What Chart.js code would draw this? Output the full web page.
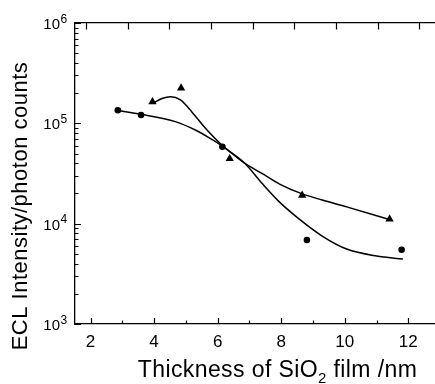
<!DOCTYPE html>
<html>
<head>
<meta charset="utf-8">
<script src="https://cdn.jsdelivr.net/npm/chart.js@4"></script>
<style>
  html, body { margin: 0; padding: 0; background: #fff; overflow: hidden; }
  #wrap { width: 435px; height: 384px; overflow: hidden; }
</style>
</head>
<body>
<div id="wrap"><canvas id="eclChart" width="480" height="384"></canvas></div>
<script>
// measured points
const circleX = [2.86, 3.59, 6.15, 8.81, 11.79];
const circleY = [1.35e5, 1.21e5, 5.85e4, 6.88e3, 5.5e3];
const triX = [3.95, 4.85, 6.38, 8.66, 11.41];
const triY = [1.64e5, 2.25e5, 4.44e4, 1.92e4, 1.11e4];

// fitted curves
const fitAX = [2.86, 3.59, 4.67, 5.30, 5.71, 6.15, 6.86, 7.42, 7.95, 8.66, 9.29, 10.06, 11.40];
const fitAY = [1.34e5, 1.23e5, 1.04e5, 8.58e4, 7.26e4, 5.94e4, 3.98e4, 3.13e4, 2.48e4, 1.98e4, 1.72e4, 1.47e4, 1.10e4];
const fitBX = [4.00, 4.25, 4.52, 4.83, 5.19, 5.61, 6.15, 6.86, 7.42, 7.95, 8.57, 9.29, 10.06, 11.00, 11.83];
const fitBY = [1.61e5, 1.77e5, 1.84e5, 1.71e5, 1.30e5, 8.98e4, 6.01e4, 3.98e4, 2.48e4, 1.64e4, 1.11e4, 7.53e3, 5.59e3, 4.76e3, 4.44e3];

// axes
const xTicks = [2, 4, 6, 8, 10, 12];
const xMinorTicks = [3, 5, 7, 9, 11];
const yTicks = [1e3, 1e4, 1e5, 1e6];
const yTickBase = "10";
const yTickExp = ["3", "4", "5", "6"];
const topTicks = [0, 1, 2, 3, 4, 5, 6, 7, 8, 9];

const xTitle = ["Thickness of SiO", "2", " film /nm"];
const yTitle = "ECL Intensity/photon counts";

const FONT = "'Liberation Sans', Arial, sans-serif";

function toPts(xs, ys) {
    return xs.map((x, i) => ({ x: x, y: ys[i] }));
}

const inTicks = {
    id: "inTicks",
    afterDraw(chart) {
        const ctx = chart.ctx;
        const a = chart.chartArea;
        const s = chart.scales;
        ctx.save();
        ctx.strokeStyle = "#000";
        ctx.lineWidth = 1.2;
        ctx.beginPath();
        yTicks.forEach(v => {
            const p = Math.round(s.y.getPixelForValue(v)) + 0.5;
            ctx.moveTo(a.left, p); ctx.lineTo(a.left + 6, p);
        });
        [1e3, 1e4, 1e5].forEach(d => {
            for (let m = 2; m <= 9; m++) {
                const p = Math.round(s.y.getPixelForValue(m * d)) + 0.5;
                ctx.moveTo(a.left, p); ctx.lineTo(a.left + 3.5, p);
            }
        });
        xTicks.forEach(v => {
            const p = Math.round(s.x.getPixelForValue(v)) + 0.5;
            ctx.moveTo(p, a.bottom); ctx.lineTo(p, a.bottom - 6);
        });
        xMinorTicks.forEach(v => {
            const p = Math.round(s.x.getPixelForValue(v)) + 0.5;
            ctx.moveTo(p, a.bottom); ctx.lineTo(p, a.bottom - 3.5);
        });
        topTicks.forEach(v => {
            const p = Math.round(s.x2.getPixelForValue(v)) + 0.5;
            ctx.moveTo(p, a.top); ctx.lineTo(p, a.top + 6.5);
        });
        ctx.stroke();

        ctx.fillStyle = "#000";
        ctx.textBaseline = "alphabetic";

        // y tick labels: 10 with a raised exponent
        yTicks.forEach((v, i) => {
            const p = s.y.getPixelForValue(v);
            ctx.font = "15px " + FONT;
            ctx.textAlign = "right";
            ctx.fillText(yTickBase, 60, p + 6);
            ctx.font = "12px " + FONT;
            ctx.textAlign = "left";
            ctx.fillText(yTickExp[i], 60.5, p - 0.5);
        });

        // axis titles
        ctx.font = "23px " + FONT;
        ctx.letterSpacing = "0.4px";
        const w0 = ctx.measureText(xTitle[0]).width;
        ctx.font = "15px " + FONT;
        const w1 = ctx.measureText(xTitle[1]).width;
        ctx.font = "23px " + FONT;
        const w2 = ctx.measureText(xTitle[2]).width;
        let x = 277.5 - (w0 + w1 + w2) / 2;
        ctx.textAlign = "left";
        ctx.fillText(xTitle[0], x, 377);
        ctx.font = "15px " + FONT;
        ctx.fillText(xTitle[1], x + w0, 383);
        ctx.font = "23px " + FONT;
        ctx.fillText(xTitle[2], x + w0 + w1, 377);

        ctx.translate(27, 206);
        ctx.rotate(-Math.PI / 2);
        ctx.font = "22px " + FONT;
        ctx.letterSpacing = "0.5px";
        ctx.textAlign = "center";
        ctx.fillText(yTitle, 0, 0);
        ctx.restore();
    }
};

new Chart(document.getElementById("eclChart"), {
    type: "scatter",
    data: {
        datasets: [
            {
                label: "fit A",
                data: toPts(fitAX, fitAY),
                showLine: true,
                borderColor: "#000",
                borderWidth: 1.5,
                pointRadius: 0,
                cubicInterpolationMode: "monotone"
            },
            {
                label: "fit B",
                data: toPts(fitBX, fitBY),
                showLine: true,
                borderColor: "#000",
                borderWidth: 1.5,
                pointRadius: 0,
                cubicInterpolationMode: "monotone"
            },
            {
                label: "circles",
                data: toPts(circleX, circleY),
                pointStyle: "circle",
                pointRadius: 3.3,
                backgroundColor: "#000",
                borderColor: "#000",
                borderWidth: 0
            },
            {
                label: "triangles",
                data: toPts(triX, triY),
                pointStyle: "triangle",
                pointRadius: 4.8,
                backgroundColor: "#000",
                borderColor: "#000",
                borderWidth: 0
            }
        ]
    },
    options: {
        responsive: false,
        animation: false,
        layout: { padding: 0 },
        plugins: {
            legend: { display: false },
            tooltip: { enabled: false }
        },
        scales: {
            x: {
                type: "linear",
                position: "bottom",
                min: 1.512,
                max: 14.105,
                afterBuildTicks: s => { s.ticks = xTicks.map(v => ({ value: v })); },
                afterFit: s => { s.height = 60; },
                grid: { display: false, drawTicks: false },
                border: { display: true, color: "#000", width: 1.3 },
                ticks: {
                    color: "#000",
                    padding: 8,
                    font: { family: FONT, size: 17 },
                    maxRotation: 0
                }
            },
            x2: {
                type: "linear",
                position: "top",
                min: -0.261,
                max: 9.337,
                afterFit: s => { s.height = 23; },
                grid: { display: false, drawTicks: false },
                border: { display: true, color: "#000", width: 1.3 },
                ticks: { display: false }
            },
            y: {
                type: "logarithmic",
                min: 1e3,
                max: 1e6,
                afterBuildTicks: s => { s.ticks = yTicks.map(v => ({ value: v })); },
                afterFit: s => { s.width = 75; },
                grid: { display: false, drawTicks: false },
                border: { display: true, color: "#000", width: 1.3 },
                ticks: { display: false }
            }
        }
    },
    plugins: [inTicks]
});
</script>
</body>
</html>
